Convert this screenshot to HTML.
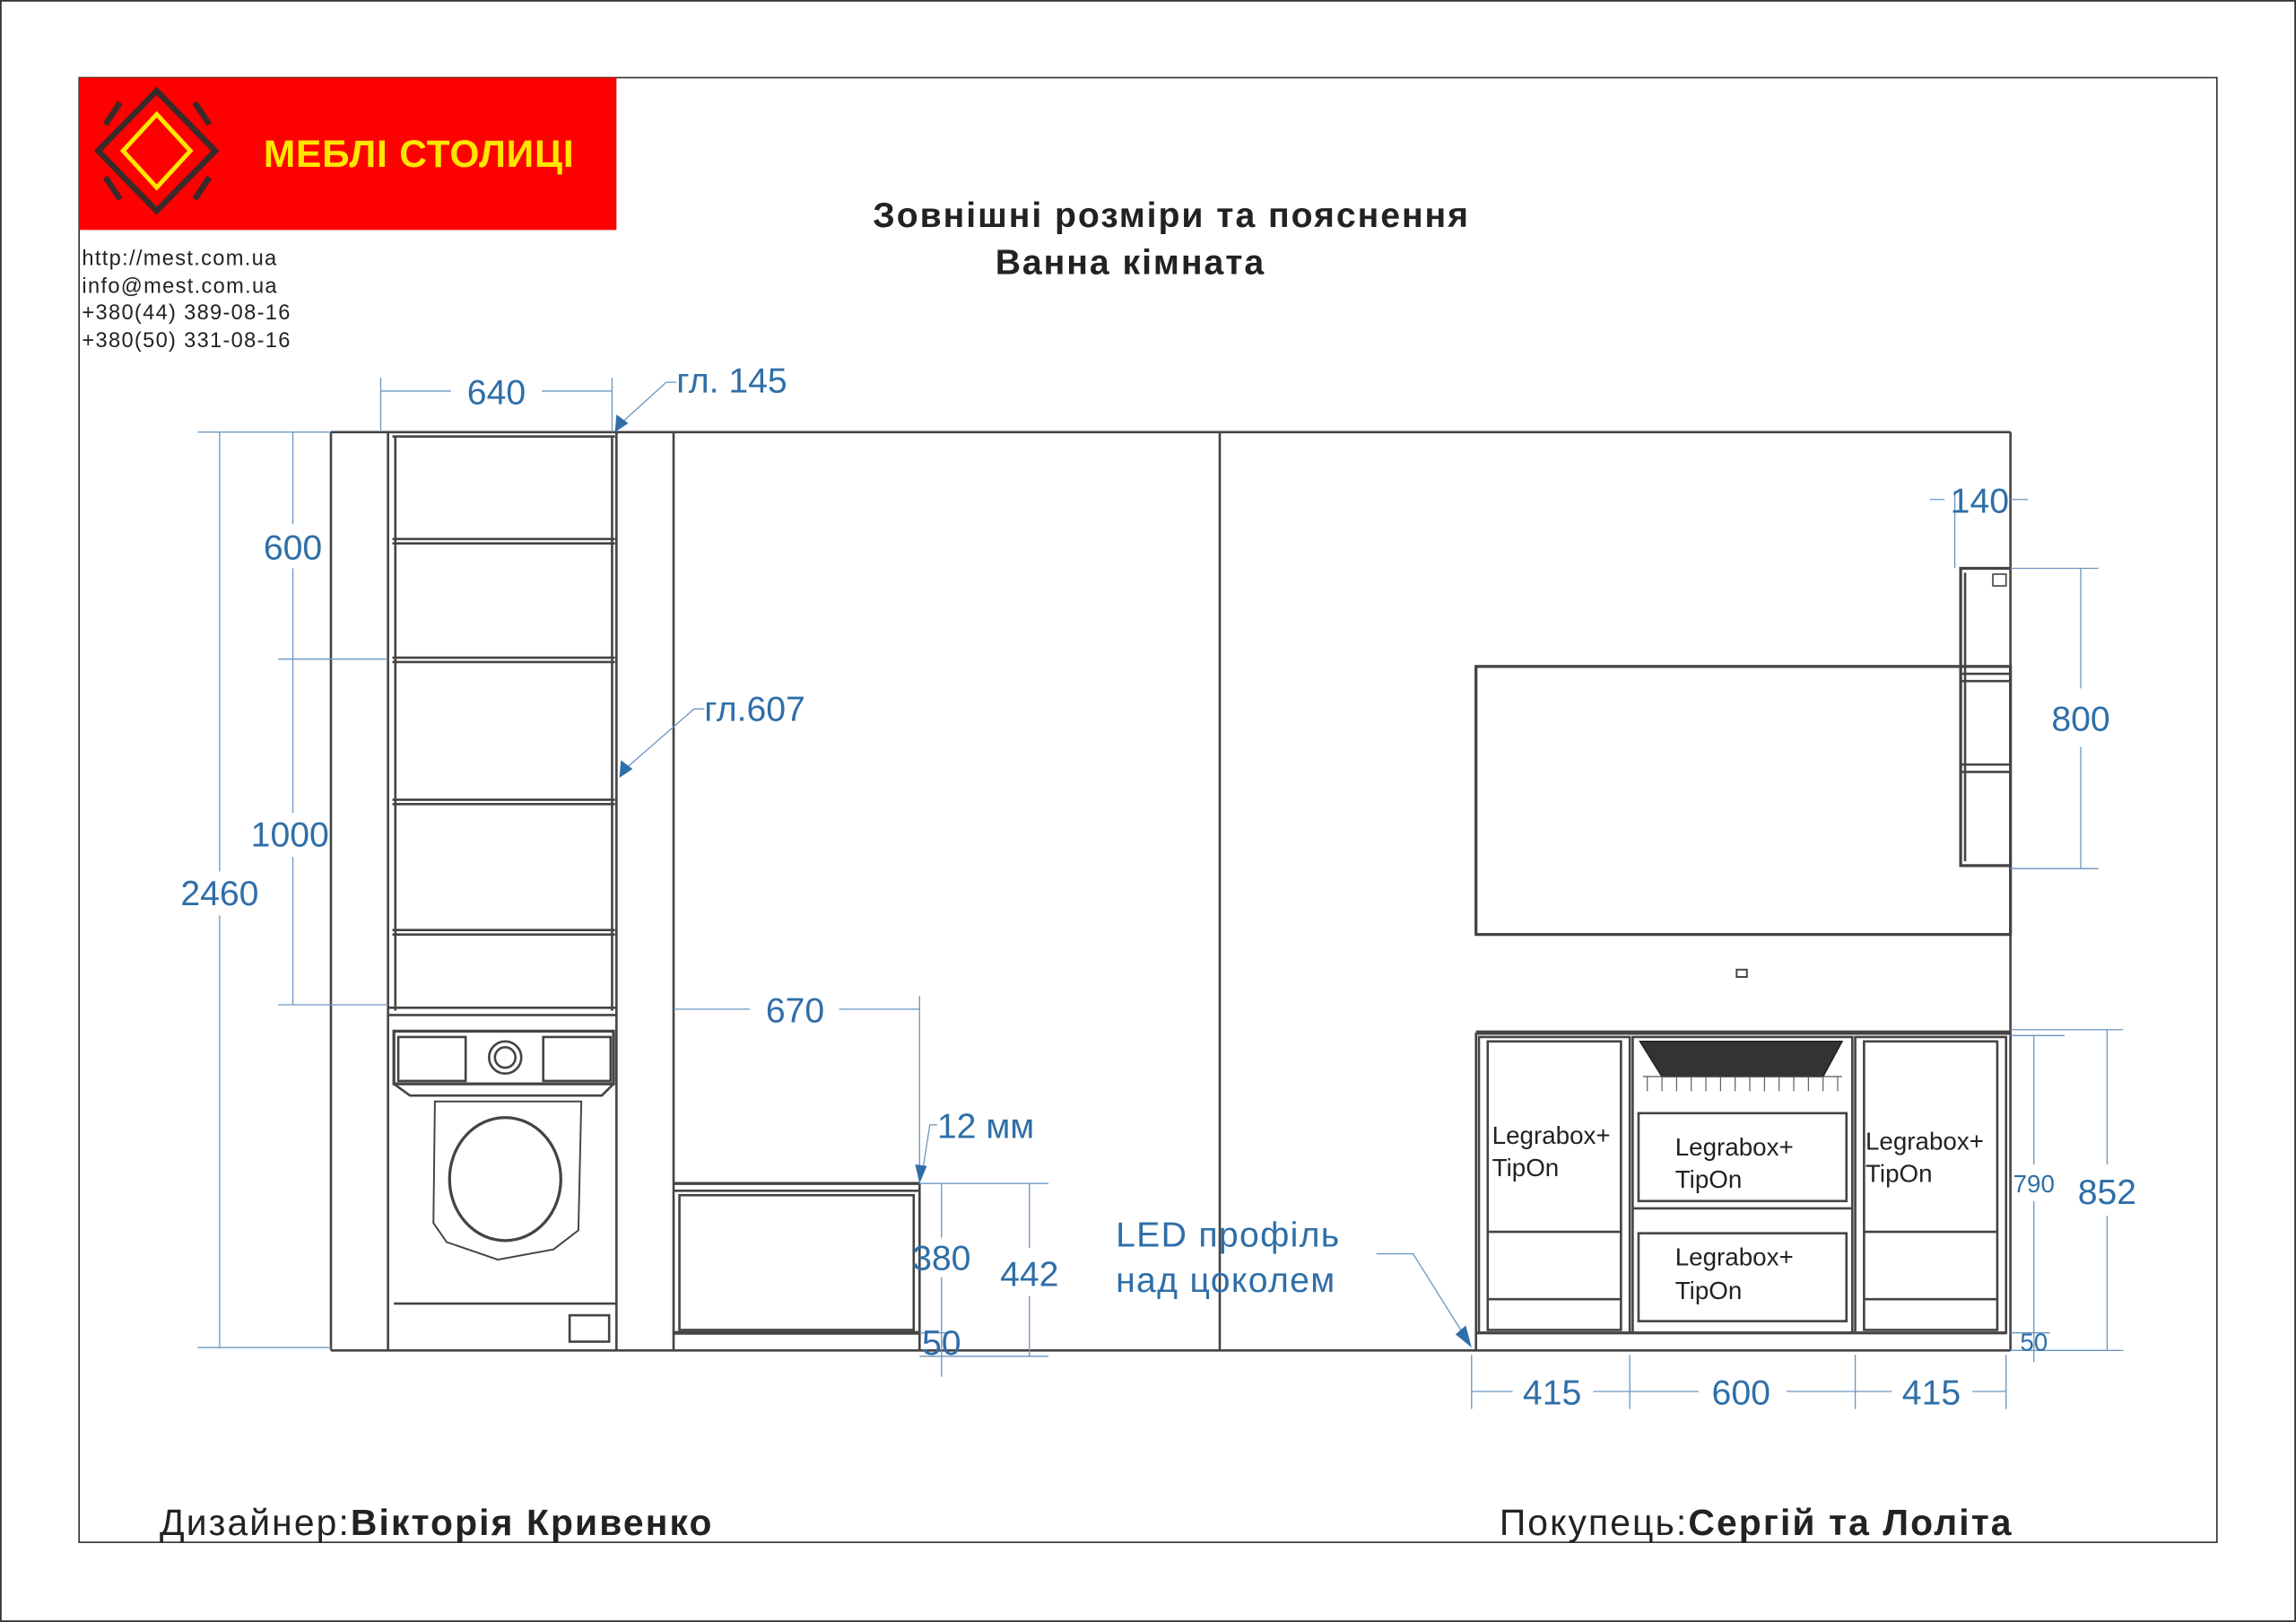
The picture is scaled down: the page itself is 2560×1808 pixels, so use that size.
<!DOCTYPE html>
<html><head><meta charset="utf-8"><style>
html,body{margin:0;padding:0;background:#fff;}
svg{display:block;}
text{font-family:"Liberation Sans","DejaVu Sans",sans-serif;}
</style></head><body>
<svg width="2560" height="1808" viewBox="0 0 1568 1107.4" xmlns="http://www.w3.org/2000/svg">
<rect x="0.5" y="0.5" width="1567" height="1106.4" fill="#fff" stroke="#333" stroke-width="1.2"/>
<rect x="54" y="53" width="1460" height="1000" fill="none" stroke="#333" stroke-width="1"/>
<!-- logo -->
<rect x="54" y="53" width="367" height="104" fill="#ff0000"/>
<g fill="none" stroke-width="4">
<polygon points="107,62 147,103 107,144 67,103" stroke="#3a2a2a"/>
<polygon points="107,78 130,103 107,128 84,103" stroke="#ffe600" stroke-width="3"/>
<line x1="82" y1="70" x2="72" y2="85" stroke="#3a2a2a"/>
<line x1="133" y1="70" x2="143" y2="85" stroke="#3a2a2a"/>
<line x1="82" y1="136" x2="72" y2="121" stroke="#3a2a2a"/>
<line x1="133" y1="136" x2="143" y2="121" stroke="#3a2a2a"/>
</g>
<text x="180" y="114" font-size="26" font-weight="bold" fill="#ffe600" letter-spacing="0.5">МЕБЛІ  СТОЛИЦІ</text>
<!-- titles -->
<text x="800" y="155" font-size="24" font-weight="bold" fill="#222" text-anchor="middle" letter-spacing="1.2">Зовнішні розміри та пояснення</text>
<text x="772" y="187" font-size="24" font-weight="bold" fill="#222" text-anchor="middle" letter-spacing="1.2">Ванна кімната</text>
<g font-size="14.5" fill="#222" letter-spacing="0.8">
<text x="56" y="181">http://mest.com.ua</text>
<text x="56" y="200">info@mest.com.ua</text>
<text x="56" y="218">+380(44)   389-08-16</text>
<text x="56" y="237">+380(50)   331-08-16</text>
</g>
<!-- drawing -->
<g fill="none" stroke="#444" stroke-width="1.6">
<line x1="226" y1="295" x2="1373" y2="295"/>
<line x1="226" y1="922" x2="1373" y2="922"/>
<line x1="226" y1="295" x2="226" y2="922"/>
<line x1="1373" y1="295" x2="1373" y2="922"/>
<line x1="265" y1="295" x2="265" y2="922"/>
<line x1="270" y1="298" x2="270" y2="690"/>
<line x1="418" y1="298" x2="418" y2="690"/>
<line x1="421" y1="295" x2="421" y2="922"/>
<line x1="460" y1="295" x2="460" y2="922"/>
<line x1="833" y1="295" x2="833" y2="922"/>
<line x1="268" y1="298" x2="420" y2="298"/>
<line x1="268" y1="368" x2="420" y2="368"/><line x1="268" y1="371" x2="420" y2="371"/>
<line x1="268" y1="449" x2="420" y2="449"/><line x1="268" y1="452" x2="420" y2="452"/>
<line x1="268" y1="546" x2="420" y2="546"/><line x1="268" y1="549" x2="420" y2="549"/>
<line x1="268" y1="635" x2="420" y2="635"/><line x1="268" y1="638" x2="420" y2="638"/>
<line x1="265" y1="688" x2="421" y2="688"/><line x1="265" y1="693" x2="421" y2="693"/>
<!-- washer -->
<rect x="269" y="704" width="150" height="36" stroke-width="2"/>
<rect x="272" y="708" width="46" height="30"/>
<circle cx="345" cy="722" r="11"/><circle cx="345" cy="722" r="7"/>
<rect x="371" y="708" width="46" height="30"/>
<path d="M269 740 L280 748 L411 748 L419 740"/>
<path d="M297 752 L397 752 L395 840 L378 853 L340 860 L305 848 L296 835 Z" stroke-width="1.2"/>
<ellipse cx="345" cy="805" rx="38" ry="42" stroke-width="2"/>
<line x1="269" y1="890" x2="421" y2="890"/>
<rect x="389" y="898" width="27" height="18"/>
<!-- bench -->
<line x1="460" y1="808" x2="628" y2="808" stroke-width="2"/>
<line x1="460" y1="813" x2="628" y2="813"/>
<line x1="628" y1="808" x2="628" y2="922"/>
<rect x="464" y="816" width="160" height="92"/>
<line x1="460" y1="910" x2="628" y2="910" stroke-width="2.5"/>
<!-- mirror -->
<rect x="1008" y="455" width="365" height="183" stroke-width="2"/>
<rect x="1186" y="662" width="7" height="5" stroke-width="1.2"/>
<!-- shelf -->
<path d="M1373 388 L1339 388 L1339 591 L1373 591" stroke-width="2"/>
<line x1="1342" y1="391" x2="1342" y2="588"/>
<line x1="1339" y1="460" x2="1373" y2="460"/><line x1="1339" y1="465" x2="1373" y2="465"/>
<line x1="1339" y1="522" x2="1373" y2="522"/><line x1="1339" y1="527" x2="1373" y2="527"/>
<rect x="1361" y="392" width="9" height="8" stroke-width="1"/>
<!-- vanity -->
<line x1="1008" y1="705" x2="1373" y2="705" stroke-width="3"/>
<line x1="1008" y1="705" x2="1008" y2="922"/>
<rect x="1010" y="708" width="103" height="202"/>
<rect x="1016" y="711" width="91" height="197"/>
<line x1="1016" y1="841" x2="1107" y2="841"/>
<line x1="1016" y1="887" x2="1107" y2="887"/>
<rect x="1115" y="708" width="150" height="202"/>
<rect x="1119" y="760" width="142" height="60"/>
<rect x="1119" y="842" width="142" height="60"/>
<line x1="1115" y1="825" x2="1265" y2="825"/>
<rect x="1267" y="708" width="103" height="202"/>
<rect x="1273" y="711" width="91" height="197"/>
<line x1="1273" y1="841" x2="1364" y2="841"/>
<line x1="1273" y1="887" x2="1364" y2="887"/>
<line x1="1008" y1="910" x2="1370" y2="910" stroke-width="2"/>
</g>
<!-- sink basket -->
<path d="M1120 711 L1258 711 L1245 735 L1135 735 Z" fill="#333" stroke="#222"/>
<g stroke="#555" stroke-width="0.7">
<line x1="1122" y1="735" x2="1258" y2="735"/>
<line x1="1125" y1="735" x2="1125" y2="745"/><line x1="1135" y1="735" x2="1135" y2="745"/><line x1="1145" y1="735" x2="1145" y2="745"/><line x1="1155" y1="735" x2="1155" y2="745"/><line x1="1165" y1="735" x2="1165" y2="745"/><line x1="1175" y1="735" x2="1175" y2="745"/><line x1="1185" y1="735" x2="1185" y2="745"/><line x1="1195" y1="735" x2="1195" y2="745"/><line x1="1205" y1="735" x2="1205" y2="745"/><line x1="1215" y1="735" x2="1215" y2="745"/><line x1="1225" y1="735" x2="1225" y2="745"/><line x1="1235" y1="735" x2="1235" y2="745"/><line x1="1245" y1="735" x2="1245" y2="745"/><line x1="1255" y1="735" x2="1255" y2="745"/>
</g>
<g font-size="17" fill="#222">
<text x="1019" y="781">Legrabox+</text><text x="1019" y="803">TipOn</text>
<text x="1144" y="789">Legrabox+</text><text x="1144" y="811">TipOn</text>
<text x="1144" y="864">Legrabox+</text><text x="1144" y="887">TipOn</text>
<text x="1274" y="785">Legrabox+</text><text x="1274" y="807">TipOn</text>
</g>
<!-- dimensions -->
<g stroke="#6a96c0" stroke-width="0.8" fill="none">
<line x1="260" y1="267" x2="308" y2="267"/><line x1="370" y1="267" x2="418" y2="267"/>
<line x1="260" y1="258" x2="260" y2="295"/><line x1="418" y1="258" x2="418" y2="295"/>
<line x1="135" y1="295" x2="226" y2="295"/>
<line x1="150" y1="295" x2="150" y2="595"/><line x1="150" y1="625" x2="150" y2="920"/>
<line x1="135" y1="920" x2="226" y2="920"/>
<line x1="200" y1="295" x2="200" y2="358"/><line x1="200" y1="388" x2="200" y2="555"/><line x1="200" y1="585" x2="200" y2="686"/>
<line x1="190" y1="450" x2="265" y2="450"/><line x1="190" y1="686" x2="265" y2="686"/>
<line x1="460" y1="689" x2="512" y2="689"/><line x1="573" y1="689" x2="628" y2="689"/>
<line x1="628" y1="680" x2="628" y2="808"/>
<line x1="628" y1="808" x2="716" y2="808"/>
<line x1="643" y1="808" x2="643" y2="845"/><line x1="643" y1="872" x2="643" y2="940"/>
<line x1="703" y1="808" x2="703" y2="852"/><line x1="703" y1="885" x2="703" y2="926"/>
<line x1="628" y1="926" x2="716" y2="926"/><line x1="628" y1="910" x2="650" y2="910"/>
<line x1="1005" y1="950" x2="1033" y2="950"/><line x1="1088" y1="950" x2="1113" y2="950"/>
<line x1="1113" y1="950" x2="1160" y2="950"/><line x1="1220" y1="950" x2="1267" y2="950"/>
<line x1="1267" y1="950" x2="1292" y2="950"/><line x1="1347" y1="950" x2="1370" y2="950"/>
<line x1="1005" y1="925" x2="1005" y2="962"/><line x1="1113" y1="925" x2="1113" y2="962"/><line x1="1267" y1="925" x2="1267" y2="962"/><line x1="1370" y1="925" x2="1370" y2="962"/>
<line x1="1318" y1="341" x2="1328" y2="341"/><line x1="1373" y1="341" x2="1385" y2="341"/>
<line x1="1335" y1="335" x2="1335" y2="388"/>
<line x1="1373" y1="388" x2="1433" y2="388"/><line x1="1373" y1="593" x2="1433" y2="593"/>
<line x1="1421" y1="388" x2="1421" y2="470"/><line x1="1421" y1="510" x2="1421" y2="593"/>
<line x1="1373" y1="707" x2="1410" y2="707"/><line x1="1373" y1="703" x2="1450" y2="703"/>
<line x1="1389" y1="707" x2="1389" y2="795"/><line x1="1389" y1="820" x2="1389" y2="930"/>
<line x1="1439" y1="703" x2="1439" y2="795"/><line x1="1439" y1="830" x2="1439" y2="922"/>
<line x1="1373" y1="922" x2="1450" y2="922"/><line x1="1373" y1="910" x2="1400" y2="910"/>
</g>
<!-- leaders -->
<g stroke="#6a96c0" stroke-width="0.8" fill="none">
<polyline points="462,261 455,261 423,290"/>
<polyline points="481,484 474,484 427,525"/>
<polyline points="640,768 635,768 630,800"/>
<polyline points="940,856 965,856 1002,915"/>
</g>
<g fill="#2f6ea8">
<polygon points="420,295 421,283 429,289"/>
<polygon points="423,531 424,519 432,525"/>
<polygon points="628,808 625,795 633,796"/>
<polygon points="1005,920 994,911 1001,905"/>
</g>
<g fill="#2f6ea8" font-size="24">
<text x="339" y="276" text-anchor="middle">640</text>
<text x="462" y="268">гл. 145</text>
<text x="200" y="382" text-anchor="middle">600</text>
<text x="198" y="578" text-anchor="middle">1000</text>
<text x="150" y="618" text-anchor="middle">2460</text>
<text x="481" y="492">гл.607</text>
<text x="543" y="698" text-anchor="middle">670</text>
<text x="640" y="777">12 мм</text>
<text x="643" y="867" text-anchor="middle">380</text>
<text x="703" y="878" text-anchor="middle">442</text>
<text x="643" y="925" text-anchor="middle">50</text>
<text x="762" y="851" letter-spacing="0.8">LED профіль</text>
<text x="762" y="882" letter-spacing="0.8">над цоколем</text>
<text x="1060" y="959" text-anchor="middle">415</text>
<text x="1189" y="959" text-anchor="middle">600</text>
<text x="1319" y="959" text-anchor="middle">415</text>
<text x="1352" y="350" text-anchor="middle">140</text>
<text x="1421" y="499" text-anchor="middle">800</text>
<text x="1439" y="822" text-anchor="middle">852</text>
</g>
<g fill="#2f6ea8" font-size="17">
<text x="1389" y="814" text-anchor="middle">790</text>
<text x="1389" y="922" text-anchor="middle">50</text>
</g>
<!-- footer -->
<text x="109" y="1048" font-size="25" fill="#222" letter-spacing="1.3">Дизайнер:<tspan font-weight="bold">Вікторія Кривенко</tspan></text>
<text x="1024" y="1048" font-size="25" fill="#222" letter-spacing="1.3">Покупець:<tspan font-weight="bold">Сергій та Лоліта</tspan></text>
</svg>
</body></html>
